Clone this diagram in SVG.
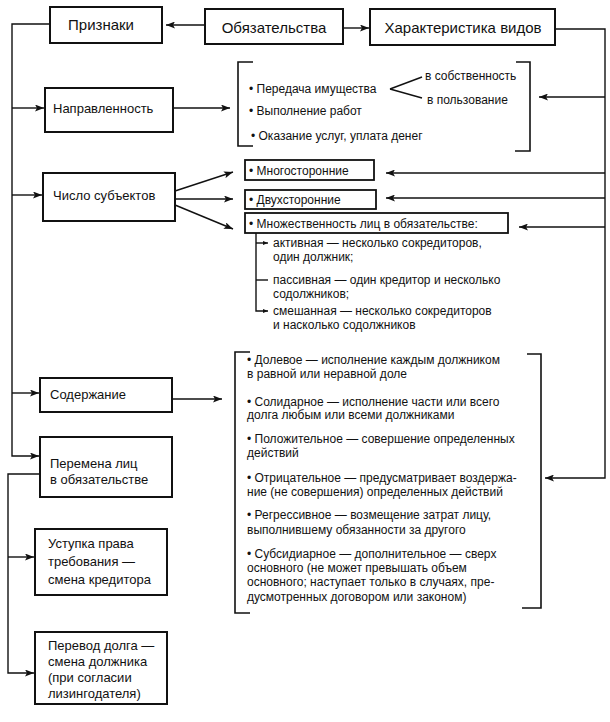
<svg xmlns="http://www.w3.org/2000/svg" width="610" height="722" viewBox="0 0 610 722">
<style>
text{font-family:"Liberation Sans",Arial,sans-serif;fill:#111}
.t{font-size:15px}
.m{font-size:13px}
.s{font-size:12px}
.box{fill:#fff;stroke:#111;stroke-width:2}
.bx{fill:#fff;stroke:#111;stroke-width:1.8}
.br{fill:none;stroke:#111;stroke-width:1.6}
.c{fill:none;stroke:#111;stroke-width:1.4}
</style>
<defs>
<marker id="a" markerWidth="9" markerHeight="7" refX="9" refY="3.5" orient="auto" markerUnits="userSpaceOnUse">
<path d="M0,0 L9,3.5 L0,7 L2,3.5 z" fill="#111"/>
</marker>
<marker id="sm" markerWidth="5" markerHeight="4" refX="5" refY="2" orient="auto" markerUnits="userSpaceOnUse">
<path d="M0,0 L5,2 L0,4 z" fill="#111"/>
</marker>
</defs>
<rect width="610" height="722" fill="#fff"/>

<g id="connectors">
<line class="c" x1="205" y1="25" x2="166" y2="25" marker-end="url(#a)"/>
<line class="c" x1="343" y1="28" x2="369" y2="28" marker-end="url(#a)"/>
<polyline class="c" points="50,24 12,24 12,456 39,456" marker-end="url(#a)"/>
<line class="c" x1="12" y1="108" x2="44" y2="108" marker-end="url(#a)"/>
<line class="c" x1="12" y1="195" x2="42" y2="195" marker-end="url(#a)"/>
<line class="c" x1="12" y1="393" x2="39" y2="393" marker-end="url(#a)"/>
<polyline class="c" points="40,474 8,474 8,673 34,673" marker-end="url(#a)"/>
<line class="c" x1="8" y1="557" x2="34" y2="557" marker-end="url(#a)"/>
<line class="c" x1="173" y1="108" x2="230" y2="108" marker-end="url(#a)"/>
<line class="c" x1="175" y1="191" x2="233" y2="172" marker-end="url(#a)"/>
<line class="c" x1="175" y1="199" x2="233" y2="199" marker-end="url(#a)"/>
<line class="c" x1="175" y1="205" x2="233" y2="229" marker-end="url(#a)"/>
<line class="c" x1="172" y1="399" x2="222" y2="399" marker-end="url(#a)"/>
<polyline class="c" points="556,29 605,29 605,478 545,478" marker-end="url(#a)"/>
<line class="c" x1="605" y1="97" x2="539" y2="97" marker-end="url(#a)"/>
<line class="c" x1="605" y1="173" x2="386" y2="173" marker-end="url(#a)"/>
<line class="c" x1="605" y1="198" x2="386" y2="198" marker-end="url(#a)"/>
<line class="c" x1="605" y1="227" x2="519" y2="227" marker-end="url(#a)"/>
<line class="c" x1="390" y1="89" x2="422" y2="77"/>
<line class="c" x1="390" y1="89" x2="422" y2="98"/>
<path class="c" d="M256,233 V311 H268" marker-end="url(#sm)"/>
<line class="c" x1="256" y1="243" x2="268" y2="243" marker-end="url(#sm)"/>
<line class="c" x1="256" y1="280" x2="268" y2="280"/>
</g>

<g id="priznaki"><rect class="box" x="50" y="7" width="112" height="36"/><text class="t" x="101" y="30" text-anchor="middle">Признаки</text></g>
<g id="obyazatelstva"><rect class="box" x="205" y="9" width="138" height="35"/><text class="t" x="274" y="33" text-anchor="middle">Обязательства</text></g>
<g id="harakteristika"><rect class="box" x="370" y="9" width="185" height="36"/><text class="t" x="463" y="33" text-anchor="middle">Характеристика видов</text></g>

<g id="napravlennost"><rect class="box" x="45" y="88" width="128" height="44"/><text class="m" x="53" y="113">Направленность</text></g>
<g id="napravlennost-types">
<path class="br" d="M253,62 H238 V146 H253"/>
<path class="br" d="M516,62 H530 V151 H515"/>
<text class="s" x="249" y="93">• Передача имущества</text>
<text class="s" x="425" y="80">в собственность</text>
<text class="s" x="427" y="104">в пользование</text>
<text class="s" x="249" y="115">• Выполнение работ</text>
<text class="s" x="251" y="140">• Оказание услуг, уплата денег</text>
</g>

<g id="chislo"><rect class="box" x="43" y="173" width="132" height="48"/><text class="m" x="53" y="200">Число субъектов</text></g>
<g id="mnogostoronnie"><rect class="bx" x="245" y="160" width="129" height="20"/><text class="s" x="249" y="175">• Многосторонние</text></g>
<g id="dvuhstoronnie"><rect class="bx" x="245" y="190" width="131" height="19"/><text class="s" x="249" y="204">• Двухсторонние</text></g>
<g id="mnozhestvennost"><rect class="bx" x="245" y="213" width="263" height="20"/><text class="s" x="249" y="228">• Множественность лиц в обязательстве:</text></g>
<g id="mnozhestvennost-types">
<text class="s" x="273" y="247">активная — несколько сокредиторов,</text>
<text class="s" x="273" y="261">один должник;</text>
<text class="s" x="273" y="284">пассивная — один кредитор и несколько</text>
<text class="s" x="273" y="298">содолжников;</text>
<text class="s" x="273" y="315">смешанная — несколько сокредиторов</text>
<text class="s" x="273" y="329">и насколько содолжников</text>
</g>

<g id="soderzhanie"><rect class="box" x="40" y="378" width="132" height="34"/><text class="m" x="50" y="399">Содержание</text></g>
<g id="soderzhanie-types">
<path class="br" d="M250,352 H235 V613 H250"/>
<path class="br" d="M527,354 H541 V608 H522"/>
<text class="s" x="247" y="364">• Долевое — исполнение каждым должником</text>
<text class="s" x="247" y="378">в равной или неравной доле</text>
<text class="s" x="247" y="406">• Солидарное — исполнение части или всего</text>
<text class="s" x="247" y="419">долга любым или всеми должниками</text>
<text class="s" x="247" y="443">• Положительное — совершение определенных</text>
<text class="s" x="247" y="457">действий</text>
<text class="s" x="247" y="482">• Отрицательное — предусматривает воздержа-</text>
<text class="s" x="247" y="496">ние (не совершения) определенных действий</text>
<text class="s" x="247" y="519">• Регрессивное — возмещение затрат лицу,</text>
<text class="s" x="247" y="534">выполнившему обязанности за другого</text>
<text class="s" x="247" y="558">• Субсидиарное — дополнительное — сверх</text>
<text class="s" x="247" y="572">основного (не может превышать объем</text>
<text class="s" x="247" y="586">основного; наступает только в случаях, пре-</text>
<text class="s" x="247" y="601">дусмотренных договором или законом)</text>
</g>

<g id="peremena"><rect class="box" x="40" y="437" width="132" height="60"/><text class="m" x="50" y="468">Перемена лиц</text><text class="m" x="50" y="484">в обязательстве</text></g>
<g id="ustupka"><rect class="box" x="35" y="529" width="132" height="66"/><text class="m" x="48" y="548">Уступка права</text><text class="m" x="48" y="566">требования —</text><text class="m" x="48" y="584">смена кредитора</text></g>
<g id="perevod"><rect class="box" x="35" y="632" width="132" height="72"/><text class="m" x="48" y="650">Перевод долга —</text><text class="m" x="48" y="666">смена должника</text><text class="m" x="48" y="682">(при согласии</text><text class="m" x="48" y="698">лизингодателя)</text></g>
</svg>
